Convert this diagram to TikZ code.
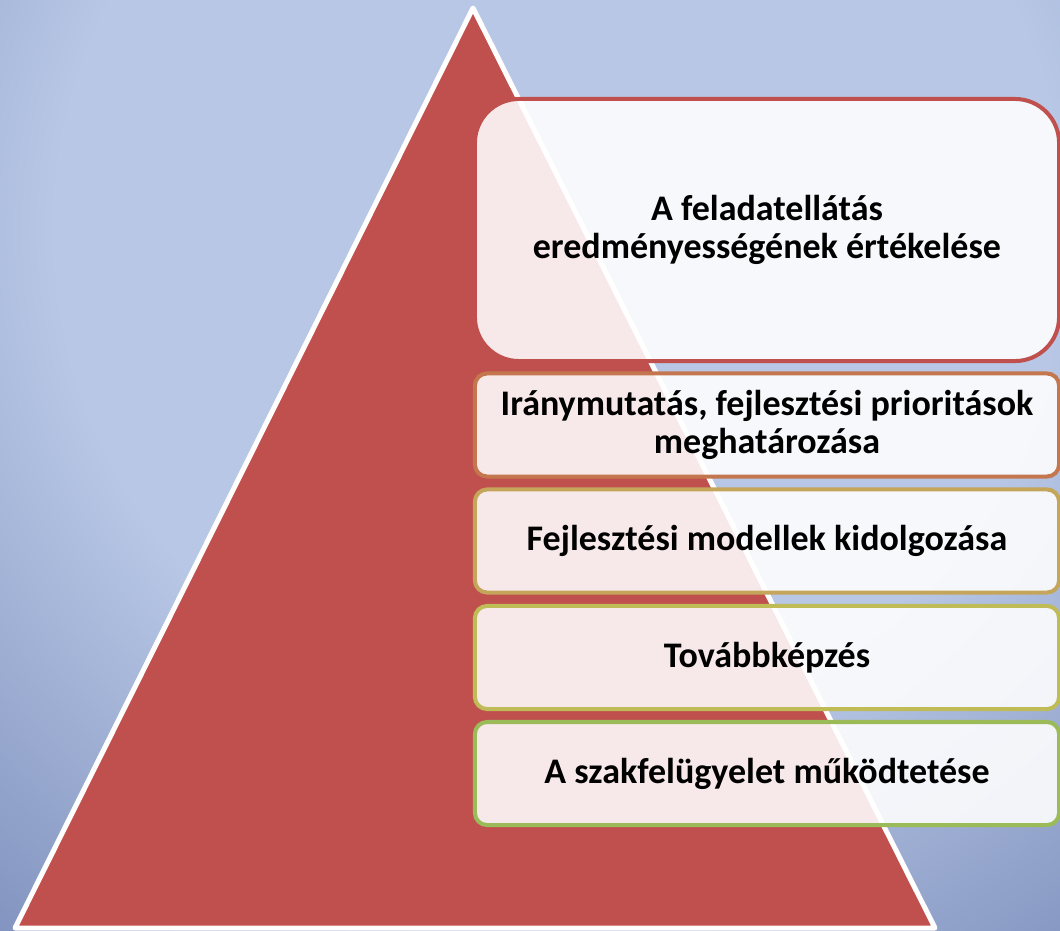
\documentclass[tikz,border=0pt]{standalone}
\usepackage{fontspec}
\setmainfont{Carlito}
\usepackage{tikz}
\usetikzlibrary{positioning}
\definecolor{bgLight}{HTML}{B8C7E5}
\definecolor{bgDark}{HTML}{6174A9}
\definecolor{triRed}{HTML}{C0504D}
\definecolor{lineA}{HTML}{C0504D}
\definecolor{lineB}{HTML}{C4774F}
\definecolor{lineC}{HTML}{C4A55A}
\definecolor{lineD}{HTML}{BFBC57}
\definecolor{lineE}{HTML}{9BBB59}
\pgfdeclareradialshading{bgshade}{\pgfpoint{0bp}{0bp}}{color(0bp)=(bgLight); color(12.6bp)=(bgLight); color(28.6bp)=(bgDark); color(50bp)=(bgDark)}
\tikzset{mybox/.style={draw, line width=0.1cm, fill=white, fill opacity=0.88, text opacity=1, draw opacity=1, minimum width=14.6cm, minimum height=2.575cm, rounded corners=0.3cm, align=center, font=\bfseries\fontsize{25.6}{27.6}\selectfont}}
\tikzset{myboxTop/.style={mybox, minimum height=6.55cm, rounded corners=1.1cm}}
\begin{document}
\begin{tikzpicture}[x=0.025cm, y=-0.025cm]

\useasboundingbox (0,0) rectangle (1060,930);
\begin{scope}
\clip (0,0) rectangle (1060,930);
\fill[bgDark] (0,0) rectangle (1060,930);
\shade[shading=bgshade] (560,230) circle (1000);

% pyramid
\filldraw[fill=triRed, draw=white, line width=0.125cm, line join=round] (473,8) -- (935,928) -- (15,928) -- cycle;

\node[myboxTop, draw=lineA] (eval) at (767,230) {A feladatellátás\\eredményességének értékelése};
\node[mybox, draw=lineB] (prio) at (767,425) {Iránymutatás, fejlesztési prioritások\\meghatározása};
\node[mybox, draw=lineC] (model) at (767,541) {Fejlesztési modellek kidolgozása};
\node[mybox, draw=lineD] (train) at (767,657.5) {Továbbképzés};
\node[mybox, draw=lineE] (superv) at (767,773.5) {A szakfelügyelet működtetése};
\end{scope}

\end{tikzpicture}
\end{document}
